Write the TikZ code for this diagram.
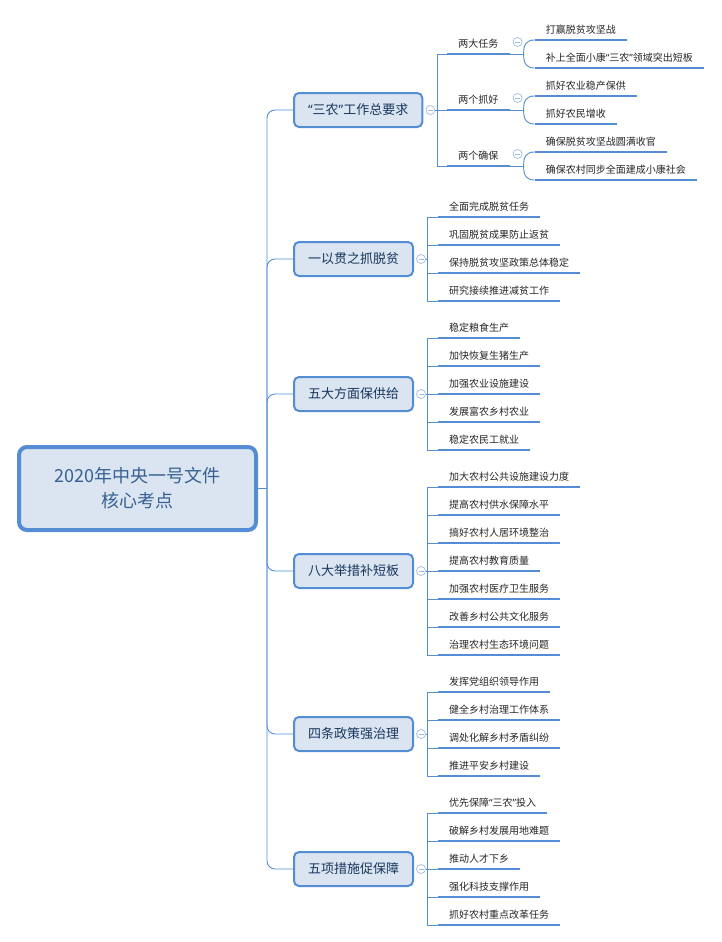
\documentclass[tikz,border=0pt]{standalone}
\usepackage{fontspec}
\setmainfont{Noto Sans CJK SC}
\newfontfamily\quotefont{Noto Sans}
\newcommand\openq{{\quotefont “}}
\newcommand\closeq{{\quotefont ”}}
\usetikzlibrary{calc}

\definecolor{lineblue}{RGB}{84,141,212}
\definecolor{boxfill}{RGB}{219,229,241}
\definecolor{topictext}{RGB}{23,54,93}
\definecolor{roottext}{RGB}{55,96,146}
\definecolor{foldblue}{RGB}{160,188,228}

\tikzset{
  conn/.style={lineblue,line width=0.9pt},
  uline/.style={lineblue,line width=2.6pt},
  roottopic/.style={draw=lineblue,line width=4pt,fill=boxfill,rounded corners=8pt,
    minimum width=237pt,minimum height=83pt,align=center,
    font=\fontsize{18}{25}\selectfont,text=roottext},
  maintopic/.style={draw=lineblue,line width=2pt,fill=boxfill,rounded corners=5pt,
    anchor=west,minimum width=118pt,minimum height=34pt,inner xsep=14pt,
    font=\fontsize{13}{15}\selectfont,text=topictext},
  leaf/.style={anchor=south west,inner xsep=11pt,inner ysep=4pt,text height=8pt,
    text depth=2pt,font=\fontsize{10}{12}\selectfont,text=black!85},
  fold/.style={circle,draw=foldblue,fill=white,line width=0.7pt,minimum size=9pt,
    inner sep=0pt,path picture={\draw[foldblue,line width=0.7pt]
      ($(path picture bounding box.center)+(-2.5,0)$) -- ++(5,0);}}
}

\begin{document}
\begin{tikzpicture}[x=1pt,y=-1pt]
\useasboundingbox (0,0) rectangle (721,942);

% central topic
\node[roottopic] (root) at (137.5,488.5) {2020年中央一号文件\\核心考点};
\coordinate (j) at (267,488.5);
\draw[conn] (root.east) -- (j);

% main topics
\node[maintopic] (t1) at (293,110) {\openq 三农\closeq 工作总要求};
\node[maintopic] (t2) at (293,259) {一以贯之抓脱贫};
\node[maintopic] (t3) at (293,394) {五大方面保供给};
\node[maintopic] (t4) at (293,571) {八大举措补短板};
\node[maintopic] (t5) at (293,734) {四条政策强治理};
\node[maintopic] (t6) at (293,869) {五项措施促保障};

\foreach \t in {1,...,6} {
  \draw[conn,rounded corners=8pt] (j) |- (t\t.west);
  \node[fold] (f\t) at ($(t\t.east)+(7,0)$) {};
  \coordinate (k\t) at ($(f\t.east)+(2,0)$);
  \draw[conn] (f\t.east) -- (k\t);
}

% "三农" branch: three sub topics, two leaves each
\foreach \txt/\a/\b [count=\i] in {两大任务/打赢脱贫攻坚战/补上全面小康\openq 三农\closeq 领域突出短板,
    两个抓好/抓好农业稳产保供/抓好农民增收,
    两个确保/确保脱贫攻坚战圆满收官/确保农村同步全面建成小康社会} {
  \node[leaf] (m\i) at ($(k1)+(10,{(\i-2)*56})$) {\txt};
  \draw[conn] (k1) |- (m\i.south west);
  \draw[uline] (m\i.south west) -- (m\i.south east);
  \node[fold] (g\i) at ($(m\i.south east)+(8,-12)$) {};
  \draw[conn] (m\i.south east) -- ++(14,0) coordinate (q\i);
  \node[leaf] (m\i-1) at ($(q\i)+(11,-14)$) {\a};
  \node[leaf] (m\i-2) at ($(q\i)+(11,14)$) {\b};
  \draw[conn] (q\i) .. controls +(0,-10) and +(-8,0) .. (m\i-1.south west);
  \draw[conn] (q\i) .. controls +(0,10) and +(-8,0) .. (m\i-2.south west);
  \draw[uline] (m\i-1.south west) -- (m\i-1.south east);
  \draw[uline] (m\i-2.south west) -- (m\i-2.south east);
}

% leaves of the other branches
\foreach \txt [count=\i] in {全面完成脱贫任务,巩固脱贫成果防止返贫,保持脱贫攻坚政策总体稳定,研究接续推进减贫工作} {
  \node[leaf] (t2-\i) at ($(k2)+(10,{(\i-2.5)*28})$) {\txt};
  \draw[conn] (k2) |- (t2-\i.south west);
  \draw[uline] (t2-\i.south west) -- (t2-\i.south east);
}
\foreach \txt [count=\i] in {稳定粮食生产,加快恢复生猪生产,加强农业设施建设,发展富农乡村农业,稳定农民工就业} {
  \node[leaf] (t3-\i) at ($(k3)+(10,{(\i-3)*28})$) {\txt};
  \draw[conn] (k3) |- (t3-\i.south west);
  \draw[uline] (t3-\i.south west) -- (t3-\i.south east);
}
\foreach \txt [count=\i] in {加大农村公共设施建设力度,提高农村供水保障水平,搞好农村人居环境整治,提高农村教育质量,加强农村医疗卫生服务,改善乡村公共文化服务,治理农村生态环境问题} {
  \node[leaf] (t4-\i) at ($(k4)+(10,{(\i-4)*28})$) {\txt};
  \draw[conn] (k4) |- (t4-\i.south west);
  \draw[uline] (t4-\i.south west) -- (t4-\i.south east);
}
\foreach \txt [count=\i] in {发挥党组织领导作用,健全乡村治理工作体系,调处化解乡村矛盾纠纷,推进平安乡村建设} {
  \node[leaf] (t5-\i) at ($(k5)+(10,{(\i-2.5)*28})$) {\txt};
  \draw[conn] (k5) |- (t5-\i.south west);
  \draw[uline] (t5-\i.south west) -- (t5-\i.south east);
}
\foreach \txt [count=\i] in {优先保障\openq 三农\closeq 投入,破解乡村发展用地难题,推动人才下乡,强化科技支撑作用,抓好农村重点改革任务} {
  \node[leaf] (t6-\i) at ($(k6)+(10,{(\i-3)*28})$) {\txt};
  \draw[conn] (k6) |- (t6-\i.south west);
  \draw[uline] (t6-\i.south west) -- (t6-\i.south east);
}

\end{tikzpicture}
\end{document}
